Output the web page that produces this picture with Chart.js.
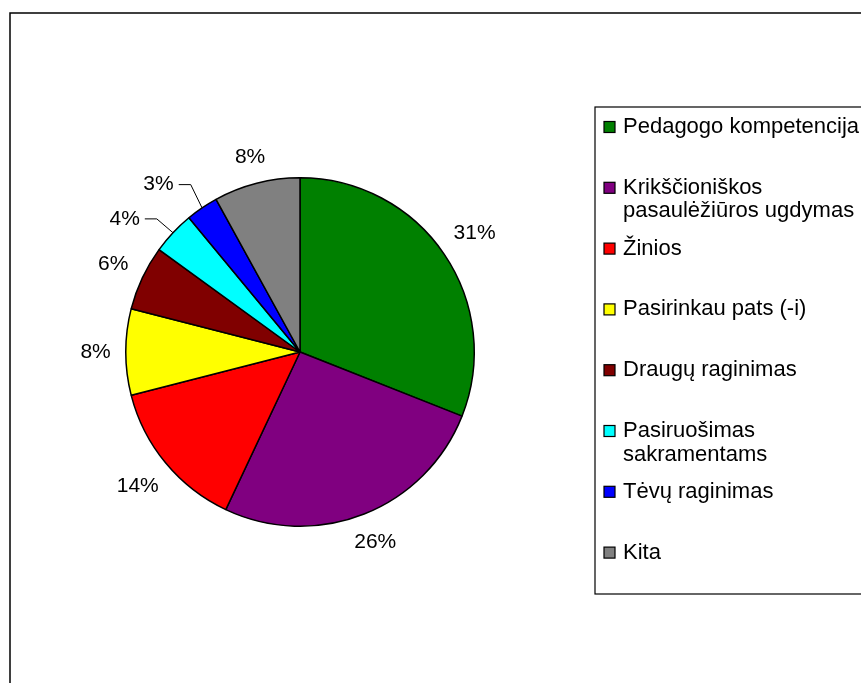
<!DOCTYPE html>
<html>
<head>
<meta charset="utf-8">
<script src="https://cdn.jsdelivr.net/npm/chart.js@4.4.0/dist/chart.umd.min.js"></script>
<style>
  html, body { margin: 0; padding: 0; background: #fff; }
  #wrap { width: 861px; height: 683px; position: relative; overflow: hidden; }
</style>
</head>
<body>
<div id="wrap"><canvas id="chartCanvas" width="861" height="683"></canvas></div>
<script>
// data (percent of answers)
const categories = [
    'Pedagogo kompetencija',
    'Krikščioniškos pasaulėžiūros ugdymas',
    'Žinios',
    'Pasirinkau pats (-i)',
    'Draugų raginimas',
    'Pasiruošimas sakramentams',
    'Tėvų raginimas',
    'Kita'
];
const values = [31, 26, 14, 8, 6, 4, 3, 8];
const colors = ['#008000', '#800080', '#FF0000', '#FFFF00', '#800000', '#00FFFF', '#0000FF', '#808080'];

const FONT = '"Liberation Sans", Arial, sans-serif';

// percent labels outside the pie, small slices get a leader line
const pieLabels = {
    id: 'pieLabels',
    afterDatasetsDraw(chart) {
        const ctx = chart.ctx;
        const meta = chart.getDatasetMeta(0);
        ctx.save();
        ctx.font = '21px ' + FONT;
        ctx.fillStyle = '#000';
        ctx.textAlign = 'center';
        ctx.textBaseline = 'middle';
        meta.data.forEach((arc, i) => {
            const p = arc.getProps(['x', 'y', 'startAngle', 'endAngle', 'outerRadius'], true);
            const text = values[i] + '%';
            const w = ctx.measureText(text).width;
            const h = 16;
            let a = (p.startAngle + p.endAngle) / 2;
            const small = values[i] < 5;
            let extra = 0;
            if (small) {
                a -= 6 * Math.PI / 180;
                extra = 14;
            }
            const c = Math.cos(a), s = Math.sin(a);
            const d = p.outerRadius + 15 + extra + (w / 2) * Math.abs(c) + (h / 2) * Math.abs(s);
            const lx = p.x + d * c;
            const ly = p.y + d * s;
            ctx.fillText(text, lx, ly);
            if (small) {
                const mid = (p.startAngle + p.endAngle) / 2;
                const ex = p.x + p.outerRadius * Math.cos(mid);
                const ey = p.y + p.outerRadius * Math.sin(mid);
                const sx = lx + w / 2 + 5;
                ctx.beginPath();
                ctx.strokeStyle = '#000';
                ctx.lineWidth = 1;
                ctx.moveTo(sx, ly);
                ctx.lineTo(sx + 12, ly);
                ctx.lineTo(ex, ey);
                ctx.stroke();
            }
        });
        ctx.restore();
    }
};

// outer frame and legend box, drawn like the spreadsheet chart
const frameLegend = {
    id: 'frameLegend',
    afterDraw(chart) {
        const ctx = chart.ctx;
        ctx.save();
        ctx.strokeStyle = '#000';
        ctx.lineWidth = 1.5;
        ctx.strokeRect(10, 13, 900, 720);

        ctx.lineWidth = 1.2;
        ctx.strokeRect(595, 107, 320, 487);

        ctx.font = '22px ' + FONT;
        ctx.textBaseline = 'middle';
        ctx.textAlign = 'left';
        const maxW = 245;
        categories.forEach((label, i) => {
            const y = 127 + i * 60.8;
            ctx.fillStyle = colors[i];
            ctx.fillRect(604, y - 5.5, 11, 11);
            ctx.strokeStyle = '#000';
            ctx.lineWidth = 1.2;
            ctx.strokeRect(604, y - 5.5, 11, 11);

            // wrap words
            const words = label.split(' ');
            const lines = [];
            let cur = '';
            words.forEach(wd => {
                const t = cur ? cur + ' ' + wd : wd;
                if (ctx.measureText(t).width > maxW && cur) {
                    lines.push(cur);
                    cur = wd;
                } else {
                    cur = t;
                }
            });
            lines.push(cur);
            ctx.fillStyle = '#000';
            lines.forEach((ln, k) => ctx.fillText(ln, 623, y + k * 23.5));
        });
        ctx.restore();
    }
};

const ctx = document.getElementById('chartCanvas').getContext('2d');
new Chart(ctx, {
    type: 'pie',
    data: {
        labels: categories,
        datasets: [{
            data: values,
            backgroundColor: colors,
            borderColor: '#000',
            borderWidth: 1.5
        }]
    },
    options: {
        responsive: false,
        animation: false,
        events: [],
        layout: { padding: { left: 125, top: 177, right: 386, bottom: 156 } },
        plugins: {
            legend: { display: false },
            tooltip: { enabled: false }
        }
    },
    plugins: [pieLabels, frameLegend]
});
</script>
</body>
</html>
